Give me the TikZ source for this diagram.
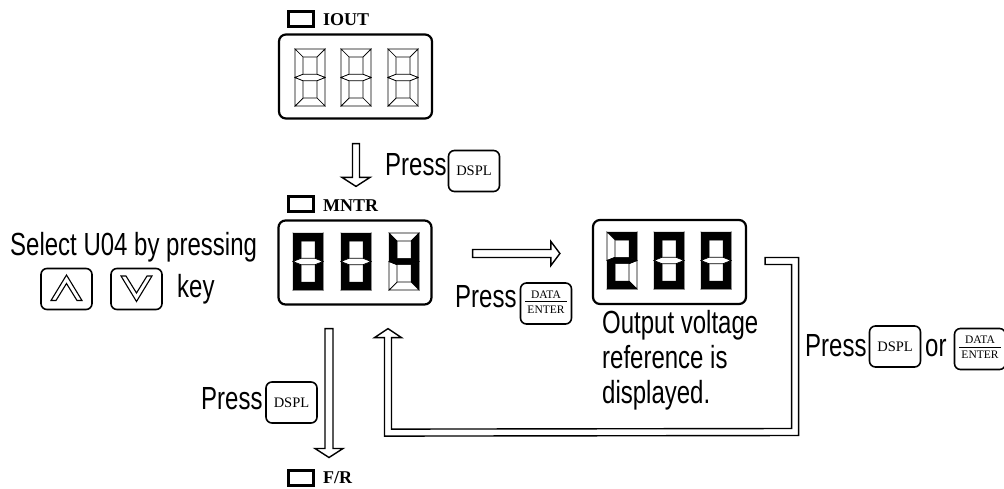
\documentclass[tikz,border=0pt]{standalone}
\usepackage{fontspec}
\setmainfont{Liberation Serif}
\newfontfamily\sansnarrow[FakeStretch=0.75]{Liberation Sans}
\usetikzlibrary{calc}
\def\sgW{30}\def\sgT{8}\def\sgH{57}\def\sgM{28.5}\def\sgG{3.2}
\newcommand{\sevseg}[9]{%
  \begin{scope}[shift={(#1,#2)}]
    \path[#3] (0,0)--(\sgW,0)--(\sgW-\sgT,\sgT)--(\sgT,\sgT)--cycle;
    \path[#4] (\sgW,0)--(\sgW,\sgM)--(\sgW-\sgT,\sgM-\sgG)--(\sgW-\sgT,\sgT)--cycle;
    \path[#5] (\sgW,\sgM)--(\sgW,\sgH)--(\sgW-\sgT,\sgH-\sgT)--(\sgW-\sgT,\sgM+\sgG)--cycle;
    \path[#6] (0,\sgH)--(\sgW,\sgH)--(\sgW-\sgT,\sgH-\sgT)--(\sgT,\sgH-\sgT)--cycle;
    \path[#7] (0,\sgM)--(\sgT,\sgM+\sgG)--(\sgT,\sgH-\sgT)--(0,\sgH)--cycle;
    \path[#8] (0,0)--(\sgT,\sgT)--(\sgT,\sgM-\sgG)--(0,\sgM)--cycle;
    \path[#9] (0,\sgM)--(\sgT,\sgM-\sgG)--(\sgW-\sgT,\sgM-\sgG)--(\sgW,\sgM)--(\sgW-\sgT,\sgM+\sgG)--(\sgT,\sgM+\sgG)--cycle;
  \end{scope}}
\tikzset{
  on/.style={fill=black,draw=black,line width=0.5pt,line join=miter},
  off/.style={fill=white,draw=black,line width=0.7pt,line join=miter},
  disp/.style={draw,line width=2.2pt,rounded corners=7pt,minimum width=153pt,minimum height=84pt,inner sep=0pt},
  keybox/.style={draw,line width=1.6pt,rounded corners=6pt,minimum width=51pt,minimum height=41pt,inner sep=0pt,font=\fontsize{14.5}{16}\selectfont},
  ind/.style={draw,line width=3pt,minimum width=25pt,minimum height=15pt,inner sep=0pt},
  lbl/.style={anchor=base west,inner sep=0pt,font=\fontsize{18}{20}\selectfont\bfseries},
  txt/.style={anchor=base west,inner sep=0pt,font=\sansnarrow\fontsize{32}{36}\selectfont},
  small/.style={anchor=base,inner sep=0pt,font=\fontsize{11.5}{12}\selectfont},
  harrow/.style={draw,line width=1.4pt,fill=white,line join=miter},
  chev/.style={draw,line width=1.1pt,fill=white,line join=miter}
}
\begin{document}
\begin{tikzpicture}[x=1pt,y=-1pt]
\useasboundingbox (0,0) rectangle (1004,488);
% displays
\node[disp] (iout) at (355.5,76.5) {};
\node[disp] (mntr) at (355,262.5) {};
\node[disp] (v200) at (669.5,262) {};
% indicators and labels
\node[ind] (iind) at (301,19) {};
\node[lbl] (ilbl) at (323,25) {IOUT};
\node[ind] (mind) at (301,204) {};
\node[lbl] (mlbl) at (323,211) {MNTR};
\node[ind] (find) at (301,477.5) {};
\node[lbl] (flbl) at (323,483) {F/R};
% digits IOUT (all off)
\sevseg{295}{49}{off}{off}{off}{off}{off}{off}{off}
\sevseg{341}{49}{off}{off}{off}{off}{off}{off}{off}
\sevseg{388}{49}{off}{off}{off}{off}{off}{off}{off}
% digits 004
\sevseg{293}{233}{on}{on}{on}{on}{on}{on}{off}
\sevseg{341}{233}{on}{on}{on}{on}{on}{on}{off}
\sevseg{389}{233}{off}{on}{on}{off}{off}{on}{on}
% digits 200
\sevseg{607}{232}{on}{on}{off}{on}{on}{off}{on}
\sevseg{654}{232}{on}{on}{on}{on}{on}{on}{off}
\sevseg{701}{232}{on}{on}{on}{on}{on}{on}{off}
% texts
\node[txt] (sel) at (10,255) {Select U04 by pressing};
\node[txt] (keyw) at (177,297) {key};
\node[txt] (p1) at (385,175) {Press};
\node[txt] (p2) at (455,307) {Press};
\node[txt] (p3) at (201,409) {Press};
\node[txt] (p4) at (805,356) {Press};
\node[txt] (orw) at (925,356) {or};
\node[txt] (out1) at (602,333) {Output voltage};
\node[txt] (out2) at (602,368) {reference is};
\node[txt] (out3) at (602,403) {displayed.};
% keys
\node[keybox] (k1) at (474,171) {DSPL};
\node[keybox] (k3) at (291.5,402.5) {DSPL};
\node[keybox] (k4) at (895,346.5) {DSPL};
\node[keybox] (k2) at (546,303.5) {};
\node[small] (k2a) at ($(k2)+(0,-5.5)$) {DATA};
\node[small] (k2b) at ($(k2)+(0,9.5)$) {ENTER};
\draw[line width=0.9pt] ($(k2)+(-21,-2)$) -- ($(k2)+(21,-2)$);
\node[keybox] (k5) at (980,349) {};
\node[small] (k5a) at ($(k5)+(0,-5.5)$) {DATA};
\node[small] (k5b) at ($(k5)+(0,9.5)$) {ENTER};
\draw[line width=0.9pt] ($(k5)+(-21,-2)$) -- ($(k5)+(21,-2)$);
\node[keybox] (kup) at (66.5,289) {};
\node[keybox] (kdn) at (136.5,289) {};
\path[chev] ($(kup)+(-15.5,11.5)$) -- ($(kup)+(0,-14)$) -- ($(kup)+(15.5,11.5)$) -- ($(kup)+(10.5,11.5)$) -- ($(kup)+(0,-5.5)$) -- ($(kup)+(-10.5,11.5)$) -- cycle;
\path[chev] ($(kdn)+(-15.5,-13)$) -- ($(kdn)+(0,12.5)$) -- ($(kdn)+(15.5,-13)$) -- ($(kdn)+(10.5,-13)$) -- ($(kdn)+(0,4)$) -- ($(kdn)+(-10.5,-13)$) -- cycle;
% arrow 1: IOUT -> MNTR
\coordinate (a1s) at ($(iout.south)+(0.5,24)$);
\coordinate (a1e) at ($(mntr.north)+(1,-33)$);
\path[harrow] ($(a1s)+(-3.5,0)$) -- ($(a1e)+(-3.5,-9)$) -- ($(a1e)+(-14,-9)$) -- (a1e) -- ($(a1e)+(14,-9)$) -- ($(a1e)+(3.5,-9)$) -- ($(a1s)+(3.5,0)$) -- cycle;
% arrow 2: MNTR -> 200
\coordinate (a2s) at ($(mntr.east)+(40,-9)$);
\coordinate (a2e) at ($(v200.west)+(-32,-8.5)$);
\path[harrow] ($(a2s)+(0,-4)$) -- ($(a2e)+(-9,-4)$) -- ($(a2e)+(-9,-12)$) -- (a2e) -- ($(a2e)+(-9,12)$) -- ($(a2e)+(-9,4)$) -- ($(a2s)+(0,4)$) -- cycle;
% arrow 3: MNTR -> F/R
\coordinate (a3s) at ($(mntr.south)+(-26,23)$);
\coordinate (a3e) at ($(find.north)+(28,-11)$);
\path[harrow] ($(a3s)+(-4,0)$) -- ($(a3e)+(-4,-9)$) -- ($(a3e)+(-14,-9)$) -- (a3e) -- ($(a3e)+(14,-9)$) -- ($(a3e)+(4,-9)$) -- ($(a3s)+(4,0)$) -- cycle;
% return loop: 200 -> MNTR
\coordinate (r0) at ($(v200.east)+(18,-1)$);
\coordinate (r1) at ($(r0)+(30,0)$);
\coordinate (r2) at ($(r1)+(0,171)$);
\coordinate (rt) at ($(mntr.south)+(33,23)$);
\coordinate (r3) at ($(rt)+(0,104)$);
\path[harrow] ($(r0)+(0,-3.5)$) -- ($(r1)+(3.5,-3.5)$) -- ($(r2)+(3.5,3.5)$) -- ($(r3)+(-3.5,3.5)$) -- ($(rt)+(-3.5,9)$) -- ($(rt)+(-13.5,9)$) -- (rt) -- ($(rt)+(13.5,9)$) -- ($(rt)+(3.5,9)$) -- ($(r3)+(3.5,-3.5)$) -- ($(r2)+(-3.5,-3.5)$) -- ($(r1)+(-3.5,3.5)$) -- ($(r0)+(0,3.5)$) -- cycle;
\end{tikzpicture}
\end{document}
